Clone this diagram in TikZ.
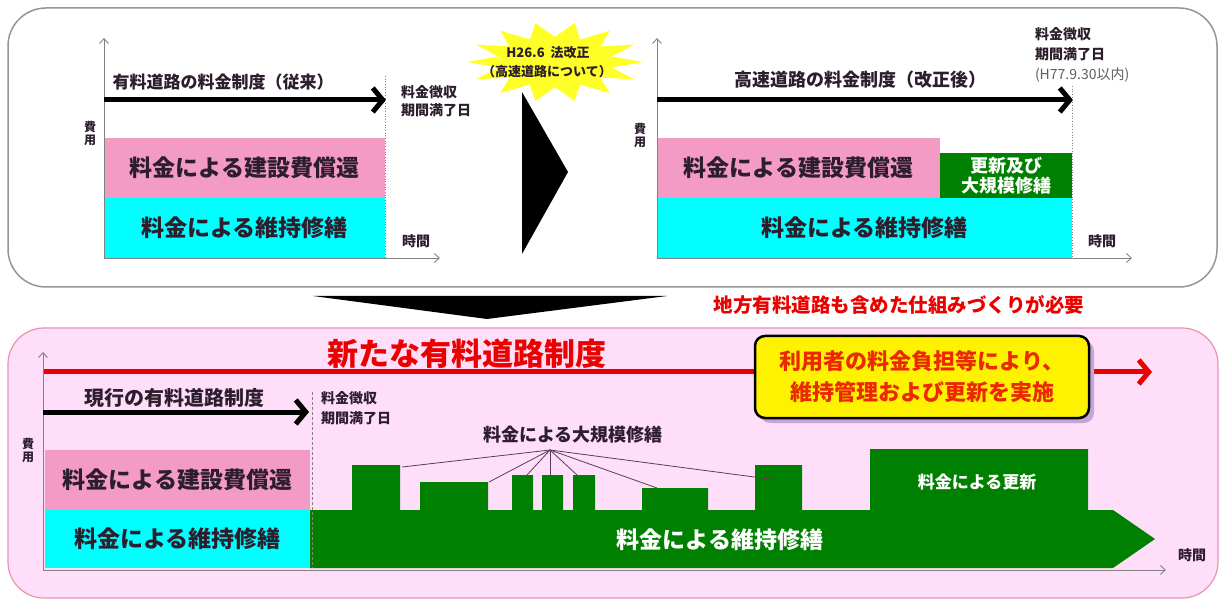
\documentclass[tikz,border=0pt]{standalone}
\usepackage{fontspec}
\setmainfont{Noto Sans CJK JP}
\usetikzlibrary{arrows.meta,shadows}
\definecolor{rpink}{RGB}{243,155,196}
\definecolor{rcyan}{RGB}{0,255,255}
\definecolor{rgreen}{RGB}{0,128,0}
\definecolor{panelpink}{RGB}{255,222,250}
\definecolor{panelborder}{RGB}{228,150,176}
\definecolor{toppanel}{RGB}{150,150,150}
\definecolor{txt}{RGB}{45,30,45}
\definecolor{rred}{RGB}{235,0,0}
\definecolor{axisgray}{RGB}{130,130,130}
\definecolor{stary}{RGB}{255,255,40}
\definecolor{shadowc}{RGB}{195,165,215}
\definecolor{boxred}{RGB}{235,40,0}
\definecolor{linec}{RGB}{90,60,90}
\definecolor{softtxt}{RGB}{95,95,95}
\begin{document}
\begin{tikzpicture}[x=1pt,y=-1pt,
  every node/.style={inner sep=0pt,outer sep=0pt,text=txt},
  fsz/.style 2 args={font=\fontsize{#1}{#2}\selectfont\bfseries},
  axis/.style={draw=axisgray,line width=0.9pt,-{Straight Barb[length=5pt,width=9pt]}},
  bigarrow/.style={draw=black,line width=5pt,-{Straight Barb[length=10pt,width=24pt]}},
  redarrow/.style={draw=rred,line width=5pt,-{Straight Barb[length=10pt,width=24pt]}},
  dotline/.style={draw=axisgray,line width=0.7pt,dotted},
  dashline/.style={draw=axisgray,line width=0.7pt,dash pattern=on 3pt off 2pt},
  thinline/.style={draw=linec,line width=0.8pt},
  rbox/.style 2 args={minimum width=#1,minimum height=#2,anchor=north west}
]
\useasboundingbox (0,0) rectangle (1226,601);
\fill[white] (0,0) rectangle (1226,601);
% panels
\draw[draw=toppanel,line width=1.5pt,rounded corners=38pt] (8,8) rectangle (1217,287);
\draw[draw=panelborder,fill=panelpink,line width=1.2pt,rounded corners=36pt] (8,328) rectangle (1218,598);

% star burst
\fill[stary] plot[domain=0:27,samples=28,variable=\k]
  ({555+(mod(\k,2)==0 ? 88 : 58)*cos(\k*360/28)},{62+(mod(\k,2)==0 ? 40 : 25)*sin(\k*360/28)}) -- cycle;

%================ top-left chart
\node[fill=rpink,rbox={281pt}{60pt},fsz={23}{25}] (tlpink) at (104,138) {料金による建設費償還};
\node[fill=rcyan,rbox={281pt}{60pt},fsz={23}{25}] (tlcyan) at (104,198) {料金による維持修繕};
\coordinate (tlo) at (104,258);
\coordinate (tly) at (104,38);
\coordinate (tlx) at (440,258);
\draw[axis] (tlo) -- (tly);
\draw[axis] (tlo) -- (tlx);
\coordinate (tla) at (104,100);
\coordinate (tlb) at (386,100);
\draw[bigarrow] (tla) -- (tlb);
\node[fsz={17}{19}] (tllab) at (223,82) {有料道路の料金制度（従来）};
\coordinate (tld1) at (385,76);
\coordinate (tld2) at (385,258);
\draw[dotline] (tld1) -- (tld2);
\node[fsz={14}{18},anchor=west,align=left] (tlend) at (401,101) {料金徴収\\期間満了日};
\node[fsz={12}{13},align=center] (tlcost) at (90,133) {費\\用};
\node[fsz={14}{14}] (tltime) at (416,241) {時間};

% star text
\node[fsz={13}{14}] (st1) at (548,53) {H26.6\ \ 法改正};
\node[fsz={13}{14}] (st2) at (547,72) {（高速道路について）};

% right-pointing triangle
\fill[black] (522,92) -- (568,172) -- (522,254) -- cycle;

%================ top-right chart
\node[fill=rpink,rbox={283pt}{60pt},fsz={23}{25}] (trpink) at (657,138) {料金による建設費償還};
\node[fill=rgreen,rbox={132pt}{45pt},fsz={18}{20},text=white,align=center] (trgreen) at (940,153) {更新及び\\大規模修繕};
\node[fill=rcyan,rbox={415pt}{60pt},fsz={23}{25}] (trcyan) at (657,198) {料金による維持修繕};
\coordinate (tro) at (657,258);
\coordinate (try) at (657,38);
\coordinate (trx) at (1132,258);
\draw[axis] (tro) -- (try);
\draw[axis] (tro) -- (trx);
\coordinate (tra) at (657,100);
\coordinate (trb) at (1073,100);
\draw[bigarrow] (tra) -- (trb);
\node[fsz={18}{19}] (trlab) at (860,80) {高速道路の料金制度（改正後）};
\coordinate (trd1) at (1072,86);
\coordinate (trd2) at (1072,258);
\draw[dotline] (trd1) -- (trd2);
\node[fsz={14}{20},anchor=west,align=left] (trend) at (1035,55) {料金徴収\\期間満了日\\{\mdseries\color{softtxt}(H77.9.30以内)}};
\node[fsz={12}{13},align=center] (trcost) at (640,135) {費\\用};
\node[fsz={14}{14}] (trtime) at (1102,241) {時間};

% down triangle
\fill[black] (313,296) -- (667,296) -- (487,319) -- cycle;
\node[fsz={19.5}{20},text=rred] (note) at (899,305) {地方有料道路も含めた仕組みづくりが必要};

%================ bottom chart
\node[fsz={31}{31},text=rred] (title) at (467,354) {新たな有料道路制度};
\coordinate (ra) at (43,372);
\coordinate (rb) at (1152,372);
\draw[redarrow] (ra) -- (rb);
\node[draw=black,line width=2.5pt,fill=yellow,rounded corners=10pt,minimum width=334pt,minimum height=82pt,
  align=center,fsz={22}{31},text=boxred,
  drop shadow={shadow xshift=5pt,shadow yshift=-5pt,fill=shadowc,opacity=1}] (ybox) at (922,377)
  {利用者の料金負担等により、\\維持管理および更新を実施};

\node[fill=rpink,rbox={265pt}{60pt},fsz={23}{25}] (bpink) at (45,450) {料金による建設費償還};
\node[fill=rcyan,rbox={265pt}{58pt},fsz={23}{25}] (bcyan) at (45,510) {料金による維持修繕};

% green renewal shape
\fill[rgreen] (310,510) -- (352,510) -- (352,465) -- (400,465) -- (400,510) -- (420,510) -- (420,482) -- (488,482) -- (488,510)
  -- (512,510) -- (512,475) -- (533,475) -- (533,510) -- (542,510) -- (542,475) -- (563,475) -- (563,510)
  -- (573,510) -- (573,475) -- (595,475) -- (595,510) -- (642,510) -- (642,488) -- (708,488) -- (708,510)
  -- (755,510) -- (755,465) -- (802,465) -- (802,510) -- (870,510) -- (870,449) -- (1088,449) -- (1088,510)
  -- (1113,510) -- (1155,539) -- (1113,568) -- (310,568) -- cycle;

\coordinate (bo) at (43,570);
\coordinate (by) at (43,352);
\coordinate (bx) at (1166,570);
\draw[axis] (bo) -- (by);
\draw[axis] (bo) -- (bx);
\coordinate (ba) at (43,412);
\coordinate (bb) at (309,412);
\draw[bigarrow] (ba) -- (bb);
\node[fsz={20}{20}] (blab) at (174,398) {現行の有料道路制度};
\coordinate (bd1) at (312,392);
\coordinate (bd2) at (312,568);
\draw[dashline] (bd1) -- (bd2);
\node[fsz={14}{20},anchor=west,align=left] (bend) at (321,408) {料金徴収\\期間満了日};
\node[fsz={12}{13},align=center] (bcost) at (28,450) {費\\用};
\node[fsz={14}{14}] (btime) at (1192,555) {時間};

\node[fsz={23}{25},text=white] (gmaint) at (720,540) {料金による維持修繕};
\node[fsz={17}{17},text=white] (gren) at (977,482) {料金による更新};
\node[fsz={18}{18}] (bigrep) at (573,435) {料金による大規模修繕};
\coordinate (hub) at (550,450);
\coordinate (b1) at (402,467);
\coordinate (b2) at (489,482);
\coordinate (b3) at (527,475);
\coordinate (b4) at (550,475);
\coordinate (b5) at (577,475);
\coordinate (b6) at (657,488);
\coordinate (b7) at (777,480);
\foreach \b in {b1,b2,b3,b4,b5,b6,b7} \draw[thinline] (hub) -- (\b);
\end{tikzpicture}
\end{document}
